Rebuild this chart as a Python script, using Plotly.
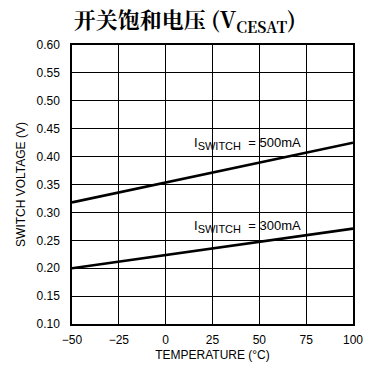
import plotly.graph_objects as go

# Switch saturation voltage vs. temperature
temps = [-50, 100]
v_500ma = [0.318, 0.425]
v_300ma = [0.200, 0.271]

x_ticks = [-50, -25, 0, 25, 50, 75, 100]
x_tick_text = ["\u221250", "\u221225", "0", "25", "50", "75", "100"]
y_ticks = [0.10, 0.15, 0.20, 0.25, 0.30, 0.35, 0.40, 0.45, 0.50, 0.55, 0.60]

sub = "<sub><span style='font-size:11px'>SWITCH</span></sub>"
label_500 = ("I" + sub + "  = 500mA", 14, 0.424)
label_300 = ("I" + sub + "  = 300mA", 14, 0.275)

sans = "Liberation Sans Narrow, Liberation Sans, Arial, sans-serif"
tick_font = dict(family=sans, size=12, color="black")

fig = go.Figure()
for ys in (v_500ma, v_300ma):
    fig.add_trace(go.Scatter(x=temps, y=ys, mode="lines",
                             line=dict(color="black", width=2.6),
                             showlegend=False, hoverinfo="skip"))

for text, lx, ly in (label_500, label_300):
    fig.add_annotation(x=lx, y=ly, text=text, showarrow=False,
                       xanchor="left", yanchor="middle",
                       font=dict(family=sans, size=13, color="black"))

fig.update_layout(
    width=366, height=367,
    margin=dict(l=72, r=13, t=45, b=43),
    paper_bgcolor="white", plot_bgcolor="white",
    title=dict(text="<b>开关饱和电压 (V<sub>CESAT</sub>)</b>",
               x=0.505, xanchor="center", y=0.945, yanchor="middle",
               font=dict(family="Noto Serif CJK SC, Noto Sans CJK SC, Liberation Serif", size=22, color="black")),
    xaxis=dict(range=[-50, 100], tickvals=x_ticks, ticktext=x_tick_text,
               showgrid=True, gridcolor="black", gridwidth=1,
               showline=True, linecolor="black", linewidth=1.5, mirror=True,
               ticks="", zeroline=False, tickfont=tick_font, automargin=False,
               ticklabelstandoff=4,
               title=dict(text="TEMPERATURE (°C)", font=tick_font, standoff=4)),
    yaxis=dict(range=[0.10, 0.60], tickvals=y_ticks, tickformat=".2f",
               showgrid=True, gridcolor="black", gridwidth=1,
               showline=True, linecolor="black", linewidth=1.5, mirror=True,
               ticks="", zeroline=False, tickfont=tick_font, automargin=False,
               ticklabelstandoff=8,
               title=dict(text="SWITCH VOLTAGE (V)", font=tick_font, standoff=8)),
)

fig.write_html("out.html")
